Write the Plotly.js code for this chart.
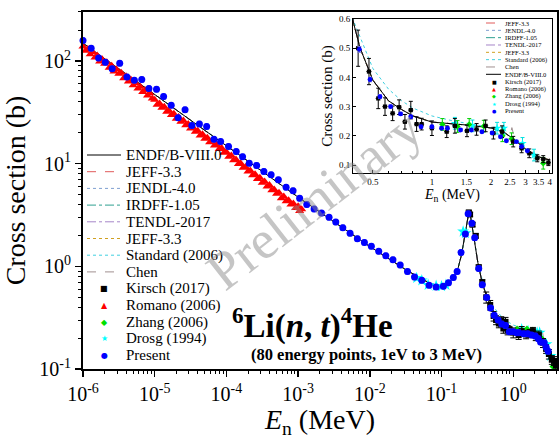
<!DOCTYPE html>
<html><head><meta charset="utf-8">
<script src="https://cdn.plot.ly/plotly-3.0.1.min.js"></script>
<style>html,body{margin:0;padding:0;background:#fff}#chart{width:559px;height:439px}</style>
</head><body><div id="chart"></div>
<script>
// ---------- data ----------
// Evaluated libraries (they coincide on the main plot)
const evalE = [1e-6, 1e-5, 1e-4, 1e-3, 0.01, 0.02, 0.03, 0.05, 0.07, 0.1, 0.12, 0.15, 0.17, 0.19, 0.21, 0.225, 0.24, 0.255, 0.27, 0.29, 0.32, 0.36, 0.4, 0.43, 0.5, 0.6, 0.7, 0.8, 1.0, 1.5, 2.0, 2.3, 2.6, 3.0, 3.5, 4.0];
const evalS = [149, 47.1, 14.9, 4.72, 1.56, 1.13, 0.95, 0.77, 0.68, 0.64, 0.67, 0.79, 0.96, 1.3, 1.95, 2.7, 3.35, 3.0, 2.4, 1.7, 1.1, 0.75, 0.58, 0.5, 0.39, 0.32, 0.29, 0.268, 0.247, 0.237, 0.227, 0.215, 0.19, 0.155, 0.128, 0.117];
const stdE = [1e-6, 1e-5, 1e-4, 1e-3, 0.01, 0.02, 0.03, 0.05, 0.07, 0.1, 0.12, 0.15, 0.17, 0.19, 0.21, 0.225, 0.24, 0.255, 0.27, 0.29, 0.32, 0.36, 0.4, 0.5, 0.6, 0.7, 0.8, 1.0, 1.3, 1.6, 2.0, 2.4, 2.8];
const stdS = [149, 47.1, 14.9, 4.72, 1.56, 1.13, 0.95, 0.77, 0.68, 0.64, 0.67, 0.79, 0.96, 1.3, 1.95, 2.7, 3.35, 3.0, 2.4, 1.7, 1.1, 0.76, 0.59, 0.43, 0.36, 0.32, 0.295, 0.268, 0.25, 0.24, 0.228, 0.205, 0.178];
const chenE = [1e-6, 1e-5, 1e-4, 1e-3, 0.01, 0.02, 0.03, 0.05, 0.07, 0.1, 0.12, 0.15, 0.17, 0.19, 0.21, 0.225, 0.24, 0.255, 0.27, 0.29, 0.32, 0.36, 0.4, 0.43, 0.5, 0.6, 0.7, 0.8, 1.0, 1.5, 2.0, 2.3, 2.5, 2.56, 2.62, 2.7, 3.0, 3.5, 4.0];
const chenS = [149, 47.1, 14.9, 4.72, 1.56, 1.13, 0.95, 0.77, 0.68, 0.64, 0.67, 0.79, 0.96, 1.3, 1.95, 2.7, 3.35, 3.0, 2.4, 1.7, 1.1, 0.75, 0.58, 0.5, 0.39, 0.32, 0.29, 0.268, 0.247, 0.237, 0.227, 0.215, 0.197, 0.228, 0.2, 0.183, 0.158, 0.131, 0.122];

// Present work (80 points, 1 eV to 3 MeV)
const presE = [1.0e-6, 1.3e-6, 1.65e-6, 2.05e-6, 2.55e-6, 3.25e-6, 4.1e-6, 5.2e-6, 6.6e-6, 8.3e-6,
  1.06e-5, 1.33e-5, 1.7e-5, 2.12e-5, 2.65e-5, 3.3e-5, 4.2e-5, 5.3e-5, 6.7e-5, 8.3e-5,
  1.07e-4, 1.37e-4, 1.68e-4, 2.08e-4, 2.64e-4, 3.33e-4, 4.2e-4, 5.3e-4, 6.8e-4, 8.5e-4,
  1.05e-3, 1.32e-3, 1.67e-3, 2.12e-3, 2.7e-3, 3.35e-3, 4.2e-3, 5.3e-3, 6.7e-3, 8.4e-3,
  1.05e-2, 1.33e-2, 1.67e-2, 2.1e-2, 2.65e-2, 3.35e-2, 4.2e-2, 5.3e-2, 6.7e-2, 8.4e-2,
  0.106, 0.125, 0.146, 0.165, 0.187, 0.215, 0.235, 0.265, 0.29, 0.33,
  0.37, 0.426, 0.483, 0.543, 0.615, 0.692, 0.78, 0.88, 1.0, 1.12,
  1.2, 1.4, 1.59, 1.8, 2.03, 2.24, 2.4, 2.7, 2.87, 3.07];
const presS = [158, 133, 107, 97, 84, 95, 70, 65, 66, 54,
  53, 45, 37, 28, 33.5, 23.5, 24.4, 23, 17.3, 16.4,
  14.7, 13.1, 11.7, 10.1, 9.6, 8.4, 7.8, 6.95, 5.9, 5.45,
  4.6, 4.0, 3.62, 3.3, 3.0, 2.7, 2.38, 2.1, 1.86, 1.71,
  1.57, 1.40, 1.27, 1.16, 1.03, 0.89, 0.785, 0.73, 0.655, 0.63,
  0.64, 0.69, 0.78, 0.89, 1.36, 2.06, 3.25, 2.63, 1.9, 0.95,
  0.66, 0.496, 0.393, 0.334, 0.30, 0.275, 0.265, 0.231, 0.231, 0.226,
  0.226, 0.22, 0.22, 0.214, 0.21, 0.197, 0.183, 0.18, 0.163, 0.149];

// Romano (2006)
const romE = [1.0e-6,1.08e-6,1.17e-6,1.26e-6,1.36e-6,1.47e-6,1.58e-6,1.71e-6,1.85e-6,2.0e-6,2.15e-6,2.32e-6,2.51e-6,2.71e-6,2.93e-6,3.16e-6,3.41e-6,3.69e-6,3.98e-6,4.3e-6,4.64e-6,5.01e-6,5.41e-6,5.84e-6,6.31e-6,6.81e-6,7.36e-6,7.94e-6,8.58e-6,9.26e-6,
  1.0e-5,1.08e-5,1.17e-5,1.26e-5,1.36e-5,1.47e-5,1.58e-5,1.71e-5,1.85e-5,2.0e-5,2.15e-5,2.32e-5,2.51e-5,2.71e-5,2.93e-5,3.16e-5,3.41e-5,3.69e-5,3.98e-5,4.3e-5,4.64e-5,5.01e-5,5.41e-5,5.84e-5,6.31e-5,6.81e-5,7.36e-5,7.94e-5,8.58e-5,9.26e-5,
  1.0e-4,1.08e-4,1.17e-4,1.26e-4,1.36e-4,1.47e-4,1.58e-4,1.71e-4,1.85e-4,2.0e-4,2.15e-4,2.32e-4,2.51e-4,2.71e-4,2.93e-4,3.16e-4,3.41e-4,3.69e-4,3.98e-4,4.3e-4,4.64e-4,5.01e-4,5.41e-4,5.84e-4,6.31e-4,6.81e-4,7.36e-4,7.94e-4,8.58e-4,9.26e-4,
  1.0e-3,1.05e-3,1.12e-3];
const romS = [138, 126, 131, 116, 122, 108, 113, 99, 104, 94, 97, 86, 90, 79, 83, 75, 77, 68, 71, 63, 66, 58, 61, 54, 56, 50, 52, 46, 48.5, 43,
  42, 37.5, 38.5, 35, 35.8, 32, 33, 29.8, 30.7, 27.4, 28.4, 25.6, 26.3, 23.7, 24.4, 22, 22.6, 20.5, 20.9, 18.8, 19.3, 17.5, 17.9, 16.2, 16.6, 15, 15.3, 13.9, 14.2, 12.8,
  13.0, 11.7, 12.0, 10.8, 11.0, 9.9, 10.1, 9.1, 9.3, 8.4, 8.6, 7.7, 7.9, 7.1, 7.3, 6.5, 6.7, 6.0, 6.2, 5.5, 5.6, 5.1, 5.2, 4.6, 4.8, 4.3, 4.4, 4.0, 4.1, 3.7,
  3.85, 3.45, 3.6];

// Kirsch (2017)
const kirE = [0.24, 0.25, 0.27, 0.30, 0.33, 0.37, 0.42, 0.477, 0.532, 0.576, 0.63, 0.68, 0.728, 0.78, 0.835, 0.886, 1.0, 1.19, 1.31, 1.51, 1.69, 1.88, 2.06, 2.28, 2.6, 2.87, 3.14, 3.45, 3.7, 3.93];
const kirS = [3.35, 3.2, 2.55, 1.98, 0.98, 0.7, 0.5, 0.42, 0.328, 0.30, 0.277, 0.298, 0.248, 0.288, 0.24, 0.24, 0.226, 0.214, 0.234, 0.217, 0.222, 0.234, 0.209, 0.214, 0.18, 0.157, 0.14, 0.123, 0.12, 0.108];
const kirErr = [0.15, 0.14, 0.12, 0.09, 0.05, 0.04, 0.062, 0.045, 0.035, 0.03, 0.025, 0.025, 0.025, 0.03, 0.025, 0.02, 0.025, 0.02, 0.025, 0.02, 0.02, 0.02, 0.02, 0.02, 0.018, 0.015, 0.015, 0.012, 0.012, 0.01];

// Zhang (2006)
const zhE = [1.13, 1.35, 1.55, 1.84, 2.29, 2.55, 3.7];
const zhS = [0.239, 0.232, 0.239, 0.233, 0.2, 0.19, 0.106];

// Drosg (1994)
const drE = [0.045, 0.053, 0.065, 0.084, 0.1, 0.115, 0.2, 0.215, 1.31, 1.61, 2.15, 2.33, 2.9, 3.32];
const drS = [0.77, 0.73, 0.66, 0.645, 0.64, 0.66, 2.18, 2.1, 0.243, 0.234, 0.226, 0.226, 0.174, 0.134];

// Legend labels
const mainLegend = ['ENDF/B-VIII.0','JEFF-3.3','JENDL-4.0','IRDFF-1.05','TENDL-2017','JEFF-3.3','Standard (2006)','Chen','Kirsch (2017)','Romano (2006)','Zhang (2006)','Drosg (1994)','Present'];
const insetLegend = ['JEFF-3.3','JENDL-4.0','IRDFF-1.05','TENDL-2017','JEFF-3.3','Standard (2006)','Chen','ENDF/B-VIII.0','Kirsch (2017)','Romano (2006)','Zhang (2006)','Drosg (1994)','Present'];

// ---------- styles ----------
const SERIF = 'Liberation Serif, Times New Roman, serif';
const lineStyle = {
  'ENDF/B-VIII.0': {color:'#000000', dash:'solid'},
  'JEFF-3.3': {color:'#e05a5a', dash:'dash'},
  'JENDL-4.0': {color:'#7f9fd0', dash:'dot'},
  'IRDFF-1.05': {color:'#2fa090', dash:'dashdot'},
  'TENDL-2017': {color:'#a585c8', dash:'dashdot'},
  'JEFF-3.3b': {color:'#d0a020', dash:'dot'},
  'Standard (2006)': {color:'#40d0e0', dash:'dot'},
  'Chen': {color:'#a09090', dash:'dash'}
};
const markStyle = {
  'Kirsch (2017)': {color:'#000000', glyph:'■'},
  'Romano (2006)': {color:'#ff0000', glyph:'▲'},
  'Zhang (2006)': {color:'#00e000', glyph:'◆'},
  'Drosg (1994)': {color:'#00ffff', glyph:'★'},
  'Present': {color:'#0000ff', glyph:'●'}
};

const traces = [];
function addSet(xa, ya, small) {
  const evals = [
    ['JEFF-3.3', evalE, evalS], ['JENDL-4.0', evalE, evalS], ['IRDFF-1.05', evalE, evalS],
    ['TENDL-2017', evalE, evalS], ['JEFF-3.3b', evalE, evalS], ['Standard (2006)', stdE, stdS],
    ['Chen', chenE, chenS], ['ENDF/B-VIII.0', evalE, evalS]
  ];
  evals.forEach(([k, xs, ys]) => {
    traces.push({x: xs, y: ys, xaxis: xa, yaxis: ya, type: 'scatter', mode: 'lines', showlegend: false,
      line: {color: lineStyle[k].color, dash: lineStyle[k].dash, width: 1}, hoverinfo: 'skip'});
  });
  const ms = small ? 0.7 : 1;
  traces.push({x: romE, y: romS, xaxis: xa, yaxis: ya, type: 'scatter', mode: 'markers', showlegend: false,
    cliponaxis: small, marker: {symbol: 'triangle-up', size: 8 * ms, color: '#ff0000'}});
  traces.push({x: drE, y: drS, xaxis: xa, yaxis: ya, type: 'scatter', mode: 'markers', showlegend: false,
    cliponaxis: small,
    error_y: {type: 'constant', value: small ? 0.02 : 0, color: '#00e0e0', thickness: 1, width: 2, visible: small},
    marker: {symbol: 'star', size: 9 * ms, color: '#00ffff'}});
  traces.push({x: zhE, y: zhS, xaxis: xa, yaxis: ya, type: 'scatter', mode: 'markers', showlegend: false,
    cliponaxis: small,
    error_y: {type: 'constant', value: 0.02, color: '#00d000', thickness: 1, width: 2, visible: small},
    marker: {symbol: 'diamond', size: 7 * ms, color: '#00e000'}});
  traces.push({x: kirE, y: kirS, xaxis: xa, yaxis: ya, type: 'scatter', mode: 'markers', showlegend: false,
    cliponaxis: small,
    error_y: {type: 'data', array: kirErr, color: '#000000', thickness: 1, width: small ? 2 : 3},
    error_x: {type: 'percent', value: 3, color: '#000000', thickness: 1, width: 0},
    marker: {symbol: 'square', size: 6 * ms, color: '#000000'}});
  traces.push({x: presE, y: presS, xaxis: xa, yaxis: ya, type: 'scatter', mode: 'markers', showlegend: false,
    cliponaxis: small,
    error_y: {type: 'percent', value: small ? 2 : 6, color: '#7070e0', thickness: 1, width: 2},
    marker: {symbol: 'circle', size: 7 * ms, color: '#0000ff'}});
}
addSet('x', 'y', false);
addSet('x2', 'y2', true);

// ---------- geometry helpers (plot area: x 83..557, y 12..369 px) ----------
const L = 83, R = 2, T = 12, B = 70, W = 559, H = 439;
const PW = W - L - R, PH = H - T - B;
const px = v => (v - L) / PW;
const py = v => (H - B - v) / PH;

function minorLog(lo, hi) { const v = []; for (let d = lo; d <= hi; d++) for (let k = 2; k <= 9; k++) v.push(k * Math.pow(10, d)); return v; }

const annotations = [];
const shapes = [];

// main legend (hand drawn for spacing)
mainLegend.forEach((name, i) => {
  const yy = 155 + 16.7 * i;
  const key = (name === 'JEFF-3.3' && i === 5) ? 'JEFF-3.3b' : name;
  if (lineStyle[key]) {
    shapes.push({type: 'line', xref: 'paper', yref: 'paper', x0: px(87), x1: px(121), y0: py(yy), y1: py(yy),
      line: {color: lineStyle[key].color, dash: lineStyle[key].dash, width: 1}});
  } else {
    annotations.push({xref: 'paper', yref: 'paper', x: px(104), y: py(yy), xanchor: 'center', yanchor: 'middle',
      text: markStyle[name].glyph, showarrow: false, font: {family: 'DejaVu Sans', size: 8, color: markStyle[name].color}});
  }
  annotations.push({xref: 'paper', yref: 'paper', x: px(124), y: py(yy), xanchor: 'left', yanchor: 'middle',
    text: name, showarrow: false, font: {family: SERIF, size: 15, color: '#000'}});
});

// inset legend
insetLegend.forEach((name, i) => {
  const yy = 23 + 7.33 * i;
  const key = (name === 'JEFF-3.3' && i === 4) ? 'JEFF-3.3b' : name;
  if (lineStyle[key]) {
    shapes.push({type: 'line', xref: 'paper', yref: 'paper', x0: px(486), x1: px(501), y0: py(yy), y1: py(yy),
      line: {color: lineStyle[key].color, dash: lineStyle[key].dash, width: 1}});
  } else {
    annotations.push({xref: 'paper', yref: 'paper', x: px(494), y: py(yy), xanchor: 'center', yanchor: 'middle',
      text: markStyle[name].glyph, showarrow: false, font: {family: 'DejaVu Sans', size: 5, color: markStyle[name].color}});
  }
  annotations.push({xref: 'paper', yref: 'paper', x: px(503), y: py(yy), xanchor: 'left', yanchor: 'middle',
    text: name, showarrow: false, font: {family: SERIF, size: 6.5, color: '#000'}});
});

// reaction label and note
annotations.push({xref: 'paper', yref: 'paper', x: px(312), y: py(323), xanchor: 'center', yanchor: 'middle', showarrow: false,
  text: '<b><sup>6</sup>Li(<i>n</i>, <i>t</i>)<sup>4</sup>He</b>', font: {family: SERIF, size: 33, color: '#000'}});
annotations.push({xref: 'paper', yref: 'paper', x: px(366), y: py(354), xanchor: 'center', yanchor: 'middle', showarrow: false,
  text: '<b>(80 energy points, 1eV to 3 MeV)</b>', font: {family: SERIF, size: 16.5, color: '#000'}});
// watermark
annotations.push({xref: 'paper', yref: 'paper', x: px(314), y: py(200), xanchor: 'center', yanchor: 'middle', showarrow: false,
  text: 'Preliminary', textangle: -38, font: {family: SERIF, size: 54, color: 'rgba(140,140,140,0.5)'}});

const pw = ['-6','-5','-4','-3','-2','-1','0'];
const layout = {
  width: W, height: H,
  margin: {l: L, r: R, t: T, b: B},
  paper_bgcolor: '#fff', plot_bgcolor: 'rgba(0,0,0,0)',
  font: {family: SERIF, color: '#000'},
  showlegend: false,
  xaxis: {
    type: 'log', range: [-6, 0.61], domain: [0, 1], anchor: 'y',
    showline: true, linewidth: 2, linecolor: '#000', mirror: true, showgrid: false, zeroline: false,
    ticks: 'outside', ticklen: 6, tickwidth: 1.5, tickcolor: '#000',
    tickmode: 'array', tickvals: [1e-6,1e-5,1e-4,1e-3,1e-2,1e-1,1],
    ticktext: pw.map(p => '10<sup>' + p + '</sup>'),
    tickfont: {family: SERIF, size: 20},
    minor: {tickmode: 'array', tickvals: minorLog(-6, 0), ticks: 'outside', ticklen: 3, tickwidth: 1, tickcolor: '#000', showgrid: false},
    title: {text: '<i>E</i><sub>n</sub> (MeV)', font: {family: SERIF, size: 28}, standoff: 7}
  },
  yaxis: {
    type: 'log', range: [-1, 2.477], domain: [0, 1], anchor: 'x',
    showline: true, linewidth: 2, linecolor: '#000', mirror: true, showgrid: false, zeroline: false,
    ticks: 'outside', ticklen: 6, tickwidth: 1.5, tickcolor: '#000',
    tickmode: 'array', tickvals: [0.1, 1, 10, 100],
    ticktext: ['10<sup>-1</sup>','10<sup>0</sup>','10<sup>1</sup>','10<sup>2</sup>'],
    tickfont: {family: SERIF, size: 20},
    minor: {tickmode: 'array', tickvals: minorLog(-1, 2), ticks: 'outside', ticklen: 3, tickwidth: 1, tickcolor: '#000', showgrid: false},
    title: {text: 'Cross section (b)', font: {family: SERIF, size: 28}, standoff: 6}
  },
  xaxis2: {
    type: 'log', range: [-0.403, 0.613], domain: [px(353), px(552)], anchor: 'y2',
    showline: true, linewidth: 1, linecolor: '#000', mirror: true, showgrid: false, zeroline: false,
    ticks: 'inside', ticklen: 3, tickwidth: 1, tickcolor: '#000',
    tickmode: 'array', tickvals: [0.5, 1, 1.5, 2, 2.5, 3, 3.5, 4], ticktext: ['0.5','1','1.5','2','2.5','3','3.5','4'],
    tickfont: {family: SERIF, size: 9},
    minor: {tickmode: 'array', tickvals: [0.4, 0.6, 0.7, 0.8, 0.9], ticks: 'inside', ticklen: 2, tickwidth: 1, tickcolor: '#000', showgrid: false},
    title: {text: '<i>E</i><sub>n</sub> (MeV)', font: {family: SERIF, size: 14}, standoff: 3}
  },
  yaxis2: {
    range: [0.0726, 0.6], domain: [py(173), py(19)], anchor: 'x2',
    showline: true, linewidth: 1, linecolor: '#000', mirror: true, showgrid: false, zeroline: false,
    ticks: 'inside', ticklen: 3, tickwidth: 1, tickcolor: '#000',
    tickmode: 'array', tickvals: [0.1, 0.2, 0.3, 0.4, 0.5, 0.6], ticktext: ['0.1','0.2','0.3','0.4','0.5','0.6'],
    tickfont: {family: SERIF, size: 9},
    title: {text: 'Cross section (b)', font: {family: SERIF, size: 15}, standoff: 2}
  },
  annotations: annotations,
  shapes: shapes
};

Plotly.newPlot('chart', traces, layout, {displayModeBar: false, staticPlot: true});
</script>
</body></html>
